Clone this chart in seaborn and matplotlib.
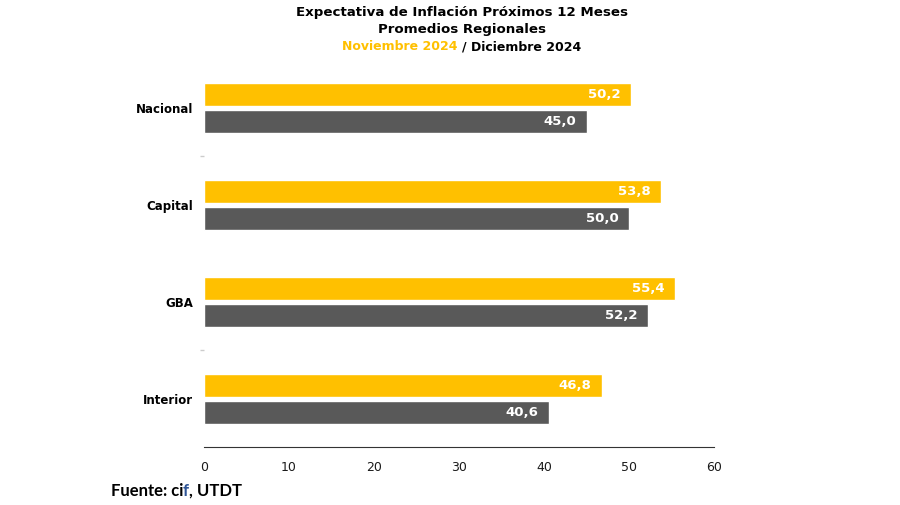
import pandas as pd
import seaborn as sns
import matplotlib.pyplot as plt

regions = ['Nacional', 'Capital', 'GBA', 'Interior']
nov_2024 = [50.2, 53.8, 55.4, 46.8]
dic_2024 = [45.0, 50.0, 52.2, 40.6]
periods = ['Noviembre 2024', 'Diciembre 2024']
x_ticks = [0, 10, 20, 30, 40, 50, 60]

df = pd.DataFrame({
    'region': regions * 2,
    'valor': nov_2024 + dic_2024,
    'periodo': [periods[0]] * 4 + [periods[1]] * 4,
})

sns.set_theme(style='white')
plt.rcParams['font.family'] = ['DejaVu Sans']

fig = plt.figure(figsize=(9, 5.05), dpi=100)
ax = fig.add_axes([0.2267, 0.1139, 0.5667, 0.7683])

sns.barplot(data=df, x='valor', y='region', hue='periodo', orient='h',
            palette=['#FFC000', '#595959'], width=0.56, gap=0.15,
            saturation=1, legend=False, ax=ax)

for cont in ax.containers:
    labels = [f'{v:.1f}'.replace('.', ',') for v in cont.datavalues]
    ax.bar_label(cont, labels=labels, padding=-7.5, color='white',
                 fontsize=9.5, fontweight='bold')
for t in ax.texts:
    t.set_horizontalalignment('right')

ax.set_xlim(0, 60)
ax.set_ylim(3.5, -0.5)
ax.set_xticks(x_ticks)
ax.set_xticklabels([str(v) for v in x_ticks], fontsize=9, color='#1a1a1a')
ax.set_yticks(range(len(regions)))
ax.set_yticklabels(regions, fontsize=8.5, fontweight='bold', color='black')
ax.set_yticks([0.5, 2.5], minor=True)
ax.tick_params(axis='y', which='minor', length=3, color='#cccccc', left=True)
ax.tick_params(axis='y', which='major', length=0, pad=8)
ax.tick_params(axis='x', which='major', length=0, pad=10)
ax.set_xlabel('')
ax.set_ylabel('')
for s in ['top', 'right', 'left']:
    ax.spines[s].set_visible(False)
ax.spines['bottom'].set_color('#333333')
ax.spines['bottom'].set_linewidth(0.8)

fig.text(0.5135, 0.975, 'Expectativa de Inflación Próximos 12 Meses',
         ha='center', va='center', fontsize=9.6, fontweight='bold', color='black')
fig.text(0.5135, 0.941, 'Promedios Regionales',
         ha='center', va='center', fontsize=9.6, fontweight='bold', color='black')
fig.text(0.5135, 0.907, 'Noviembre 2024 ', ha='right', va='center',
         fontsize=9, fontweight='bold', color='#FFC000')
fig.text(0.5135, 0.907, '/ Diciembre 2024', ha='left', va='center',
         fontsize=9, fontweight='bold', color='black')

fx = 0.123
fy = 0.028
tt = fig.text(fx, fy, 'Fuente: ci', ha='left', va='center', fontsize=12,
              fontweight='bold', family=['Lato'], color='black')
fig.canvas.draw()
bb = tt.get_window_extent().transformed(fig.transFigure.inverted())
tf = fig.text(bb.x1, fy, 'f', ha='left', va='center', fontsize=12,
              fontweight='bold', family=['Lato'], color='#2F5597')
fig.canvas.draw()
bb2 = tf.get_window_extent().transformed(fig.transFigure.inverted())
fig.text(bb2.x1, fy, ', UTDT', ha='left', va='center', fontsize=12,
         fontweight='bold', family=['Lato'], color='black')

fig.savefig('out.png', dpi=100)
